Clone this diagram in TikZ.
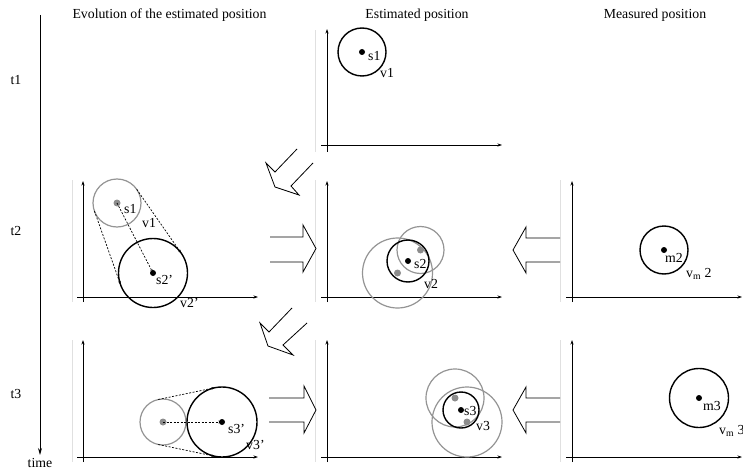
\documentclass[tikz,border=0pt]{standalone}
\usepackage{fontspec}
\setmainfont{Liberation Serif}
\usetikzlibrary{arrows.meta}
\begin{document}
\begin{tikzpicture}[x=1pt,y=-1pt,
  txt/.style={font=\fontsize{13.8}{16}\selectfont, inner sep=0pt},
  lbl/.style={txt, anchor=base west},
  axis/.style={line width=0.7pt, -{Stealth[length=4.5pt,width=3pt]}},
  frame/.style={draw=black!12, line width=0.9pt},
  bcirc/.style={draw=black, line width=1.4pt},
  gcirc/.style={draw=black!42, line width=1.2pt},
  bdot/.style={fill=black},
  gdot/.style={fill=black!45},
  blockarrow/.style={line width=0.8pt, line join=miter},
  dasharrow/.style={line width=0.7pt, dash pattern=on 2pt off 1.5pt, -{Stealth[length=3.5pt,width=2.5pt]}},
  timeaxis/.style={line width=0.9pt, -{Stealth[length=7pt,width=4pt]}}
]
\useasboundingbox (0,0) rectangle (743,473);

% time axis
\coordinate (ttop) at (40,15);
\coordinate (tbot) at (40,455);
\draw[timeaxis] (ttop) -- (tbot);
\node[txt, anchor=base] (time) at (40,467) {time};
\node[txt, anchor=base] (t1) at (16,85) {t1};
\node[txt, anchor=base] (t2) at (16,235) {t2};
\node[txt, anchor=base] (t3) at (16,398) {t3};

% column titles
\node[txt, anchor=base] (h1) at (169.5,18.3) {Evolution of the estimated position};
\node[txt, anchor=base] (h2) at (417,18.3) {Estimated position};
\node[txt, anchor=base] (h3) at (655,18.3) {Measured position};

% ---------- panel frames and axes ----------
% row 1, middle
\draw[frame] (315,30) -- (315,152);
\draw[axis] (327,152) -- (327,29);
\draw[axis] (321,145) -- (502,145);
% row 2
\draw[frame] (72,180) -- (72,302);
\draw[axis] (83,302) -- (83,181);
\draw[axis] (77,297) -- (258,297);
\draw[frame] (315,180) -- (315,302);
\draw[axis] (327,302) -- (327,181);
\draw[axis] (321,297) -- (502,297);
\draw[frame] (560,180) -- (560,302);
\draw[axis] (572,302) -- (572,181);
\draw[axis] (566,297) -- (742,297);
% row 3
\draw[frame] (72,340) -- (72,462);
\draw[axis] (83,462) -- (83,340);
\draw[axis] (77,457) -- (258,457);
\draw[frame] (315,340) -- (315,462);
\draw[axis] (327,462) -- (327,340);
\draw[axis] (321,457) -- (502,457);
\draw[frame] (560,340) -- (560,462);
\draw[axis] (572,462) -- (572,340);
\draw[axis] (566,457) -- (742,457);

% ---------- row 1 estimated ----------
\coordinate (e1) at (362,52);
\draw[bcirc] (e1) circle (24);
\fill[bdot] (e1) circle (3);
\node[lbl] (e1s) at (368,61) {s1};
\node[lbl] (e1v) at (380,78) {v1};

% ---------- row 2 evolution ----------
\coordinate (a1) at (117,203);
\coordinate (a2) at (153,273);
\draw[gcirc] (a1) circle (24);
\draw[bcirc] (a2) circle (34.5);
\fill[gdot] (a1) circle (3.5);
\fill[bdot] (a2) circle (3);
\coordinate (a1l) at (94.4,211);
\coordinate (a2l) at (120.5,284.5);
\coordinate (a1r) at (136.7,189.3);
\coordinate (a2r) at (181.3,253.3);
\draw[dasharrow] (a1) -- (a2);
\draw[dasharrow] (a1l) -- (a2l);
\draw[dasharrow] (a1r) -- (a2r);
\node[lbl] (a1s) at (124,213) {s1};
\node[lbl] (a1v) at (142,227) {v1};
\node[lbl] (a2s) at (156,284) {s2'};
\node[lbl] (a2v) at (180,307) {v2'};

% ---------- row 2 estimated ----------
\coordinate (b0) at (408,261);
\coordinate (b1) at (420.5,250);
\coordinate (b2) at (397.5,273);
\draw[gcirc] (b1) circle (23.5);
\draw[gcirc] (b2) circle (35);
\draw[bcirc] (b0) circle (21);
\fill[gdot] (b1) circle (3.5);
\fill[gdot] (b2) circle (3.5);
\fill[bdot] (b0) circle (3);
\node[lbl] (b0s) at (414,268) {s2};
\node[lbl] (b0v) at (424,288) {v2};

% ---------- row 2 measured ----------
\coordinate (m2) at (664,250);
\draw[bcirc] (m2) circle (24);
\fill[bdot] (m2) circle (3);
\node[lbl] (m2s) at (665,262) {m2};
\node[lbl] (m2v) at (686,277) {v\textsubscript{m} 2};

% ---------- row 3 evolution ----------
\coordinate (c1) at (163,422);
\coordinate (c2) at (222,422);
\draw[gcirc] (c1) circle (23);
\draw[bcirc] (c2) circle (35);
\fill[gdot] (c1) circle (3.5);
\fill[bdot] (c2) circle (3);
\coordinate (c1t) at (158.3,399.5);
\coordinate (c2t) at (214.9,387.7);
\coordinate (c1b) at (158.3,444.5);
\coordinate (c2b) at (214.9,456.3);
\draw[dasharrow] (c1) -- (c2);
\draw[dasharrow] (c1t) -- (c2t);
\draw[dasharrow] (c1b) -- (c2b);
\node[lbl] (c2s) at (228,433) {s3'};
\node[lbl] (c2v) at (246,449) {v3'};

% ---------- row 3 estimated ----------
\coordinate (d0) at (461,410);
\coordinate (d1) at (455,398);
\coordinate (d2) at (467,422);
\draw[gcirc] (d1) circle (29);
\draw[gcirc] (d2) circle (35);
\draw[bcirc] (d0) circle (18);
\fill[gdot] (d1) circle (3.5);
\fill[gdot] (d2) circle (3.5);
\fill[bdot] (d0) circle (3);
\node[lbl] (d0s) at (464,415) {s3};
\node[lbl] (d0v) at (476,430) {v3};

% ---------- row 3 measured ----------
\coordinate (m3) at (699,398);
\draw[bcirc] (m3) circle (29.5);
\fill[bdot] (m3) circle (3);
\node[lbl] (m3s) at (703,410) {m3};
\node[lbl] (m3v) at (719,434) {v\textsubscript{m} 3};

% ---------- block arrows ----------
\draw[blockarrow] (270,237) -- (303,237) -- (303,225) -- (316,248.5) -- (303,272) -- (303,262) -- (270,262);
\draw[blockarrow] (269,398) -- (304,398) -- (304,386) -- (316,410) -- (304,433) -- (304,422) -- (269,422);
\draw[blockarrow] (560,238) -- (526,238) -- (526,227) -- (513,250) -- (526,273) -- (526,262) -- (560,262);
\draw[blockarrow] (560,398) -- (526,398) -- (526,387) -- (513,410) -- (526,433) -- (526,422) -- (560,422);
\draw[blockarrow] (297,149) -- (275,172) -- (266,163) -- (275,187) -- (299,195) -- (291,186) -- (313,163);
\draw[blockarrow] (292,308) -- (269,332) -- (260,323) -- (268,346) -- (293,355) -- (283,345) -- (307,323);
\end{tikzpicture}
\end{document}
